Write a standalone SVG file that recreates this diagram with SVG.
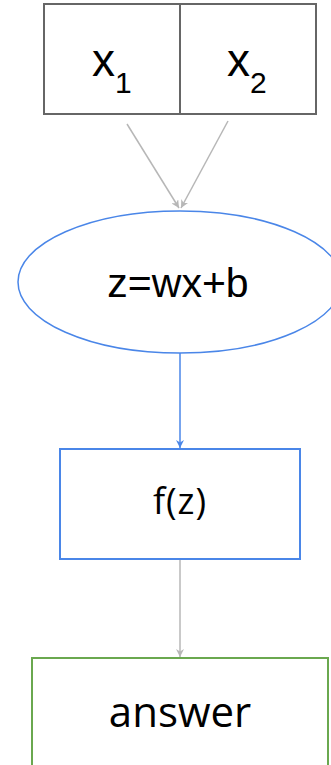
<svg xmlns="http://www.w3.org/2000/svg" width="331" height="765" viewBox="0 0 331 765">
<defs>
<style>
.gray{stroke:#b7b7b7;stroke-width:1.5;fill:none}
.blue{stroke:#4a86e8;stroke-width:1.5;fill:none}
.t{font-family:"Liberation Sans",Arial,sans-serif;fill:#000}
.o{font-family:"Open Sans","Noto Sans",sans-serif;fill:#000}
</style>
<marker id="ag" viewBox="0 0 10 10" refX="10" refY="5" markerWidth="8" markerHeight="8" markerUnits="userSpaceOnUse" orient="auto"><path d="M0,0 L10,5 L0,10 L3,5 Z" fill="#b7b7b7"/></marker>
<marker id="ab" viewBox="0 0 10 10" refX="10" refY="5" markerWidth="8" markerHeight="8" markerUnits="userSpaceOnUse" orient="auto"><path d="M0,0 L10,5 L0,10 L3,5 Z" fill="#4a86e8"/></marker>
</defs>
<rect width="331" height="765" fill="#fff"/>
<g id="connectors">
<line class="gray" x1="127" y1="124" x2="179" y2="208" marker-end="url(#ag)"/>
<line class="gray" x1="228" y1="121" x2="181" y2="208" marker-end="url(#ag)"/>
<line class="blue" x1="180" y1="353" x2="180" y2="448" marker-end="url(#ab)"/>
<line class="gray" x1="180" y1="559" x2="180" y2="657" marker-end="url(#ag)"/>
</g>
<g id="inputs">
<rect x="44" y="4" width="272" height="110" fill="#fff" stroke="#666" stroke-width="2"/>
<line x1="180" y1="4" x2="180" y2="114" stroke="#666" stroke-width="2"/>
<text class="t" x="92" y="76" font-size="46">x<tspan font-size="30" dy="17">1</tspan></text>
<text class="t" x="227" y="76" font-size="46">x<tspan font-size="30" dy="17">2</tspan></text>
</g>
<g id="linear">
<ellipse cx="180" cy="282" rx="162" ry="71" fill="#fff" stroke="#4a86e8" stroke-width="1.5"/>
<text class="t" x="178" y="297" font-size="41" text-anchor="middle">z=wx+b</text>
</g>
<g id="activation">
<rect x="60" y="449" width="240" height="110" fill="#fff" stroke="#4a86e8" stroke-width="2"/>
<text class="o" x="180" y="514" font-size="36" text-anchor="middle" letter-spacing="1">f(z)</text>
</g>
<g id="answer">
<rect x="32" y="658" width="296" height="120" fill="#fff" stroke="#6aa84f" stroke-width="2"/>
<text class="o" x="180" y="727" font-size="42" text-anchor="middle">answer</text>
</g>
</svg>
